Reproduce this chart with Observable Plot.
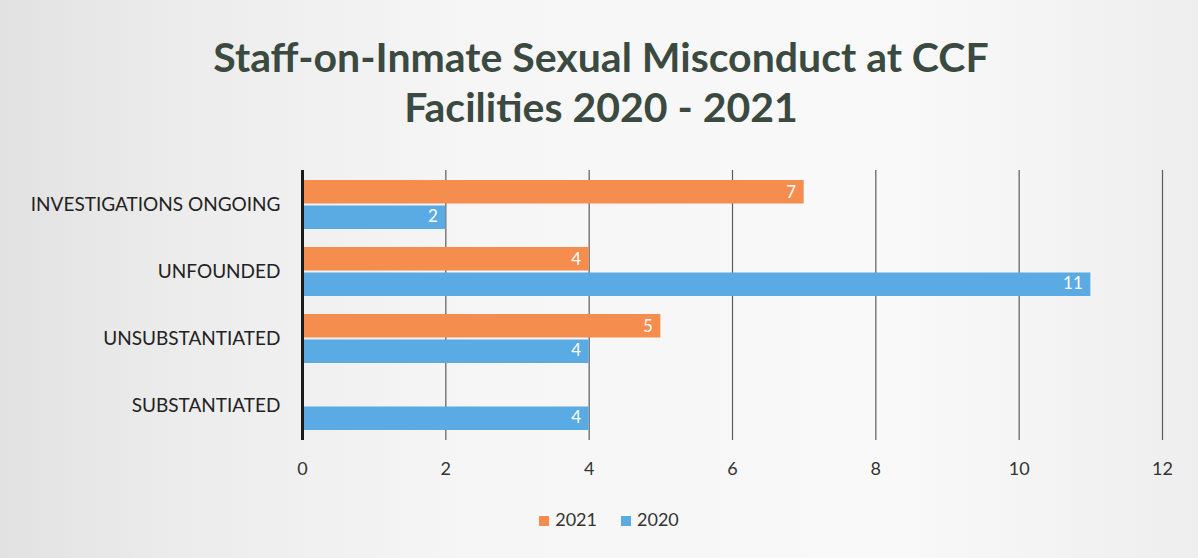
<!DOCTYPE html>
<html>
<head>
<meta charset="utf-8">
<script src="https://cdn.jsdelivr.net/npm/d3@7"></script>
<script src="https://cdn.jsdelivr.net/npm/@observablehq/plot@0.6"></script>
<style>
  html, body { margin: 0; padding: 0; }
  body {
    width: 1198px; height: 558px; overflow: hidden;
    background: linear-gradient(to right, #e2e2e2 0%, #ececec 15%, #f6f6f6 40%, #f9f9f9 75%, #eeeeee 100%);
    font-family: Lato, "Open Sans", sans-serif;
  }
  #title {
    height: 140px; box-sizing: border-box; padding-top: 32px;
    text-align: center; font-weight: 700; font-size: 41px; line-height: 50px;
    color: #3b4a40; padding-left: 4px;
  }
  #chart { height: 350px; }
  #legend {
    display: flex; justify-content: center; gap: 24px; margin-top: 18px;
    font-size: 18px; color: #333; padding-left: 20px;
  }
  #legend span.sw { display: inline-block; width: 10px; height: 10px; margin-right: 6px; }
</style>
</head>
<body>
<div id="title">Staff-on-Inmate Sexual Misconduct at CCF<br>Facilities 2020 - 2021</div>
<div id="chart"></div>
<div id="legend"></div>
<script>
const categories = ["INVESTIGATIONS ONGOING", "UNFOUNDED", "UNSUBSTANTIATED", "SUBSTANTIATED"];
const years = ["2021", "2020"];
const values2021 = [7, 4, 5, null];
const values2020 = [2, 11, 4, 4];
const xTicks = [0, 2, 4, 6, 8, 10, 12];
const colors = {"2021": "#f58d4e", "2020": "#5aaae4"};

const rows = [];
categories.forEach((c, i) => {
  if (values2021[i] != null) rows.push({category: c, year: "2021", value: values2021[i]});
  if (values2020[i] != null) rows.push({category: c, year: "2020", value: values2020[i]});
});
const r21 = rows.filter(d => d.year === "2021");
const r20 = rows.filter(d => d.year === "2020");

const plot = Plot.plot({
  width: 1198,
  height: 350,
  marginTop: 30,
  marginBottom: 50,
  marginLeft: 302,
  marginRight: 36,
  style: {fontFamily: "Lato, 'Open Sans', sans-serif", background: "transparent"},
  x: {domain: [0, 12], ticks: xTicks, label: null, tickSize: 0, tickPadding: 22},
  y: {domain: categories, padding: 0, label: null, tickSize: 0, tickPadding: 22},
  marks: [
    Plot.gridX(xTicks.filter(t => t > 0), {stroke: "#4a4a4a", strokeOpacity: 0.9, strokeWidth: 1.2}),
    Plot.barX(r21, {y: "category", x: "value", fill: colors["2021"], insetTop: 9, insetBottom: 34.5}),
    Plot.barX(r20, {y: "category", x: "value", fill: colors["2020"], insetTop: 34.5, insetBottom: 9}),
    Plot.text(r21, {y: "category", x: "value", text: d => String(d.value), fill: "white", textAnchor: "end", dx: -8, dy: -12, fontSize: 17}),
    Plot.text(r20, {y: "category", x: "value", text: d => String(d.value), fill: "white", textAnchor: "end", dx: -8, dy: 12, fontSize: 17}),
    Plot.ruleX([0], {stroke: "#1a1a1a", strokeWidth: 3}),
    Plot.axisX({ticks: xTicks, tickSize: 0, tickPadding: 22, fontSize: 18, fill: "#333", label: null}),
    Plot.axisY({tickSize: 0, tickPadding: 22, fontSize: 19, fill: "#222", label: null})
  ]
});
document.getElementById("chart").appendChild(plot);

const legend = document.getElementById("legend");
years.forEach(y => {
  const item = document.createElement("div");
  item.innerHTML = `<span class="sw" style="background:${colors[y]}"></span>${y}`;
  legend.appendChild(item);
});
</script>
</body>
</html>
